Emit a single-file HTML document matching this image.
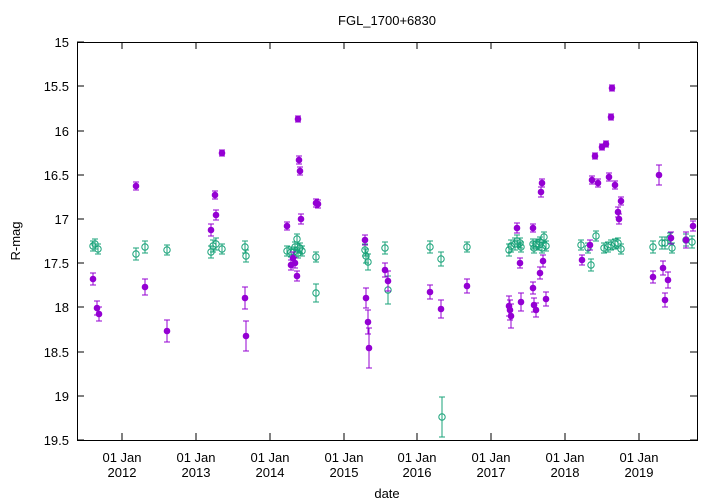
<!DOCTYPE html>
<html><head><meta charset="utf-8"><style>body{margin:0;background:#fff}svg{display:block}text{font-family:"Liberation Sans",sans-serif;font-size:13px;fill:#000}</style></head>
<body>
<svg width="720" height="504" xmlns="http://www.w3.org/2000/svg">
<defs>
<circle id="o" r="3.2" fill="none" stroke="#1aa37a"/>
<circle id="f" r="3.3" fill="#9400d3"/>
</defs>
<rect x="77.5" y="42.5" width="620" height="398" fill="none" stroke="#000"/>
<g stroke="#000">
<path d="M77,42h7M77,86h7M77,131h7M77,175h7M77,219h7M77,263h7M77,307h7M77,352h7M77,396h7M77,440h7"/>
<path d="M697,42h-7M697,86h-7M697,131h-7M697,175h-7M697,219h-7M697,263h-7M697,307h-7M697,352h-7M697,396h-7M697,440h-7"/>
<path d="M122,440v-7M196,440v-7M270,440v-7M344,440v-7M417,440v-7M491,440v-7M565,440v-7M639,440v-7"/>
<path d="M122,42v7M196,42v7M270,42v7M344,42v7M417,42v7M491,42v7M565,42v7M639,42v7"/>
</g>
<g text-anchor="end">
<text x="69" y="47">15</text><text x="69" y="91">15.5</text><text x="69" y="136">16</text><text x="69" y="180">16.5</text><text x="69" y="224">17</text><text x="69" y="268">17.5</text><text x="69" y="312">18</text><text x="69" y="357">18.5</text><text x="69" y="401">19</text><text x="69" y="445">19.5</text>
</g>
<g text-anchor="middle">
<text x="122" y="462">01 Jan</text><text x="122" y="477">2012</text>
<text x="196" y="462">01 Jan</text><text x="196" y="477">2013</text>
<text x="270" y="462">01 Jan</text><text x="270" y="477">2014</text>
<text x="344" y="462">01 Jan</text><text x="344" y="477">2015</text>
<text x="417" y="462">01 Jan</text><text x="417" y="477">2016</text>
<text x="491" y="462">01 Jan</text><text x="491" y="477">2017</text>
<text x="565" y="462">01 Jan</text><text x="565" y="477">2018</text>
<text x="639" y="462">01 Jan</text><text x="639" y="477">2019</text>
<text x="387" y="498">date</text>
<text x="387" y="25">FGL_1700+6830</text>
<text transform="translate(20,241) rotate(-90)">R-mag</text>
</g>
<path fill="none" stroke="#1aa37a" d="M93,241V251M90,241h6M90,251h6 M95,239V249M92,239h6M92,249h6 M98,244V254M95,244h6M95,254h6 M136,248V260M133,248h6M133,260h6 M145,241V253M142,241h6M142,253h6 M167,245V255M164,245h6M164,255h6 M211,246V258M208,246h6M208,258h6 M213,240V252M210,240h6M210,252h6 M216,238V250M213,238h6M213,250h6 M222,244V254M219,244h6M219,254h6 M245,241V253M242,241h6M242,253h6 M246,250V262M243,250h6M243,262h6 M287,246V256M284,246h6M284,256h6 M291,247V257M288,247h6M288,257h6 M294,247V257M291,247h6M291,257h6 M295,242V252M292,242h6M292,252h6 M297,234V244M294,234h6M294,244h6 M298,248V258M295,248h6M295,258h6 M300,243V253M297,243h6M297,253h6 M302,246V256M299,246h6M299,256h6 M316,252V262M313,252h6M313,262h6 M316,284V302M313,284h6M313,302h6 M365,244V256M362,244h6M362,256h6 M366,249V263M363,249h6M363,263h6 M368,254V270M365,254h6M365,270h6 M385,242V254M382,242h6M382,254h6 M388,276V304M385,276h6M385,304h6 M430,241V253M427,241h6M427,253h6 M441,252V266M438,252h6M438,266h6 M442,397V437M439,397h6M439,437h6 M467,242V252M464,242h6M464,252h6 M509,244V256M506,244h6M506,256h6 M511,240V252M508,240h6M508,252h6 M515,238V250M512,238h6M512,250h6 M517,235V247M514,235h6M514,247h6 M520,238V248M517,238h6M517,248h6 M521,242V252M518,242h6M518,252h6 M533,239V249M530,239h6M530,249h6 M534,243V253M531,243h6M531,253h6 M536,239V249M533,239h6M533,249h6 M539,240V250M536,240h6M536,250h6 M540,237V247M537,237h6M537,247h6 M542,243V253M539,243h6M539,253h6 M544,232V242M541,232h6M541,242h6 M546,241V251M543,241h6M543,251h6 M581,240V250M578,240h6M578,250h6 M588,243V253M585,243h6M585,253h6 M591,259V271M588,259h6M588,271h6 M596,231V241M593,231h6M593,241h6 M604,243V253M601,243h6M601,253h6 M608,242V252M605,242h6M605,252h6 M611,240V250M608,240h6M608,250h6 M615,239V249M612,239h6M612,249h6 M618,238V248M615,238h6M615,248h6 M621,244V254M618,244h6M618,254h6 M653,241V253M650,241h6M650,253h6 M662,237V249M659,237h6M659,249h6 M665,237V249M662,237h6M662,249h6 M670,233V243M667,233h6M667,243h6 M672,243V253M669,243h6M669,253h6 M686,234V246M683,234h6M683,246h6 M692,236V248M689,236h6M689,248h6"/>
<g>
<use href="#o" x="93" y="246"/><use href="#o" x="95" y="244"/><use href="#o" x="98" y="249"/><use href="#o" x="136" y="254"/><use href="#o" x="145" y="247"/><use href="#o" x="167" y="250"/><use href="#o" x="211" y="252"/><use href="#o" x="213" y="246"/><use href="#o" x="216" y="244"/><use href="#o" x="222" y="249"/><use href="#o" x="245" y="247"/><use href="#o" x="246" y="256"/><use href="#o" x="287" y="251"/><use href="#o" x="291" y="252"/><use href="#o" x="294" y="252"/><use href="#o" x="295" y="247"/><use href="#o" x="297" y="239"/><use href="#o" x="298" y="253"/><use href="#o" x="300" y="248"/><use href="#o" x="302" y="251"/><use href="#o" x="316" y="257"/><use href="#o" x="316" y="293"/><use href="#o" x="365" y="250"/><use href="#o" x="366" y="256"/><use href="#o" x="368" y="262"/><use href="#o" x="385" y="248"/><use href="#o" x="388" y="290"/><use href="#o" x="430" y="247"/><use href="#o" x="441" y="259"/><use href="#o" x="442" y="417"/><use href="#o" x="467" y="247"/><use href="#o" x="509" y="250"/><use href="#o" x="511" y="246"/><use href="#o" x="515" y="244"/><use href="#o" x="517" y="241"/><use href="#o" x="520" y="243"/><use href="#o" x="521" y="247"/><use href="#o" x="533" y="244"/><use href="#o" x="534" y="248"/><use href="#o" x="536" y="244"/><use href="#o" x="539" y="245"/><use href="#o" x="540" y="242"/><use href="#o" x="542" y="248"/><use href="#o" x="544" y="237"/><use href="#o" x="546" y="246"/><use href="#o" x="581" y="245"/><use href="#o" x="588" y="248"/><use href="#o" x="591" y="265"/><use href="#o" x="596" y="236"/><use href="#o" x="604" y="248"/><use href="#o" x="608" y="247"/><use href="#o" x="611" y="245"/><use href="#o" x="615" y="244"/><use href="#o" x="618" y="243"/><use href="#o" x="621" y="249"/><use href="#o" x="653" y="247"/><use href="#o" x="662" y="243"/><use href="#o" x="665" y="243"/><use href="#o" x="670" y="238"/><use href="#o" x="672" y="248"/><use href="#o" x="686" y="240"/><use href="#o" x="692" y="242"/>
</g>
<path fill="none" stroke="#9400d3" d="M93,273V285M90,273h6M90,285h6 M97,301V315M94,301h6M94,315h6 M99,307V321M96,307h6M96,321h6 M136,182V190M133,182h6M133,190h6 M145,279V295M142,279h6M142,295h6 M167,320V342M164,320h6M164,342h6 M211,224V236M208,224h6M208,236h6 M215,191V199M212,191h6M212,199h6 M216,210V220M213,210h6M213,220h6 M222,150V156M219,150h6M219,156h6 M245,287V309M242,287h6M242,309h6 M246,321V351M243,321h6M243,351h6 M287,222V230M284,222h6M284,230h6 M291,260V270M288,260h6M288,270h6 M293,252V264M290,252h6M290,264h6 M295,258V268M292,258h6M292,268h6 M297,271V281M294,271h6M294,281h6 M298,116V122M295,116h6M295,122h6 M299,156V164M296,156h6M296,164h6 M300,167V175M297,167h6M297,175h6 M301,214V224M298,214h6M298,224h6 M316,199V207M313,199h6M313,207h6 M318,200V208M315,200h6M315,208h6 M365,235V245M362,235h6M362,245h6 M366,288V308M363,288h6M363,308h6 M368,310V334M365,310h6M365,334h6 M369,328V368M366,328h6M366,368h6 M385,263V277M382,263h6M382,277h6 M388,271V291M385,271h6M385,291h6 M430,285V299M427,285h6M427,299h6 M441,300V318M438,300h6M438,318h6 M467,279V293M464,279h6M464,293h6 M509,296V316M506,296h6M506,316h6 M510,300V320M507,300h6M507,320h6 M511,304V328M508,304h6M508,328h6 M517,223V233M514,223h6M514,233h6 M520,258V268M517,258h6M517,268h6 M521,293V311M518,293h6M518,311h6 M533,224V232M530,224h6M530,232h6 M533,282V294M530,282h6M530,294h6 M534,298V312M531,298h6M531,312h6 M536,303V317M533,303h6M533,317h6 M540,267V279M537,267h6M537,279h6 M541,187V197M538,187h6M538,197h6 M542,179V187M539,179h6M539,187h6 M543,255V267M540,255h6M540,267h6 M546,292V306M543,292h6M543,306h6 M582,255V265M579,255h6M579,265h6 M590,240V250M587,240h6M587,250h6 M592,176V184M589,176h6M589,184h6 M595,153V159M592,153h6M592,159h6 M598,179V187M595,179h6M595,187h6 M602,144V150M599,144h6M599,150h6 M606,141V147M603,141h6M603,147h6 M609,173V181M606,173h6M606,181h6 M611,114V120M608,114h6M608,120h6 M612,85V91M609,85h6M609,91h6 M615,181V189M612,181h6M612,189h6 M618,207V217M615,207h6M615,217h6 M619,214V224M616,214h6M616,224h6 M621,197V205M618,197h6M618,205h6 M653,271V283M650,271h6M650,283h6 M659,165V185M656,165h6M656,185h6 M663,261V275M660,261h6M660,275h6 M665,293V307M662,293h6M662,307h6 M668,272V288M665,272h6M665,288h6 M671,232V244M668,232h6M668,244h6 M686,232V248M683,232h6M683,248h6 M693,221V231M690,221h6M690,231h6"/>
<g>
<use href="#f" x="93" y="279"/><use href="#f" x="97" y="308"/><use href="#f" x="99" y="314"/><use href="#f" x="136" y="186"/><use href="#f" x="145" y="287"/><use href="#f" x="167" y="331"/><use href="#f" x="211" y="230"/><use href="#f" x="215" y="195"/><use href="#f" x="216" y="215"/><use href="#f" x="222" y="153"/><use href="#f" x="245" y="298"/><use href="#f" x="246" y="336"/><use href="#f" x="287" y="226"/><use href="#f" x="291" y="265"/><use href="#f" x="293" y="258"/><use href="#f" x="295" y="263"/><use href="#f" x="297" y="276"/><use href="#f" x="298" y="119"/><use href="#f" x="299" y="160"/><use href="#f" x="300" y="171"/><use href="#f" x="301" y="219"/><use href="#f" x="316" y="203"/><use href="#f" x="318" y="204"/><use href="#f" x="365" y="240"/><use href="#f" x="366" y="298"/><use href="#f" x="368" y="322"/><use href="#f" x="369" y="348"/><use href="#f" x="385" y="270"/><use href="#f" x="388" y="281"/><use href="#f" x="430" y="292"/><use href="#f" x="441" y="309"/><use href="#f" x="467" y="286"/><use href="#f" x="509" y="306"/><use href="#f" x="510" y="310"/><use href="#f" x="511" y="316"/><use href="#f" x="517" y="228"/><use href="#f" x="520" y="263"/><use href="#f" x="521" y="302"/><use href="#f" x="533" y="228"/><use href="#f" x="533" y="288"/><use href="#f" x="534" y="305"/><use href="#f" x="536" y="310"/><use href="#f" x="540" y="273"/><use href="#f" x="541" y="192"/><use href="#f" x="542" y="183"/><use href="#f" x="543" y="261"/><use href="#f" x="546" y="299"/><use href="#f" x="582" y="260"/><use href="#f" x="590" y="245"/><use href="#f" x="592" y="180"/><use href="#f" x="595" y="156"/><use href="#f" x="598" y="183"/><use href="#f" x="602" y="147"/><use href="#f" x="606" y="144"/><use href="#f" x="609" y="177"/><use href="#f" x="611" y="117"/><use href="#f" x="612" y="88"/><use href="#f" x="615" y="185"/><use href="#f" x="618" y="212"/><use href="#f" x="619" y="219"/><use href="#f" x="621" y="201"/><use href="#f" x="653" y="277"/><use href="#f" x="659" y="175"/><use href="#f" x="663" y="268"/><use href="#f" x="665" y="300"/><use href="#f" x="668" y="280"/><use href="#f" x="671" y="238"/><use href="#f" x="686" y="240"/><use href="#f" x="693" y="226"/>
</g>
</svg>
</body></html>
